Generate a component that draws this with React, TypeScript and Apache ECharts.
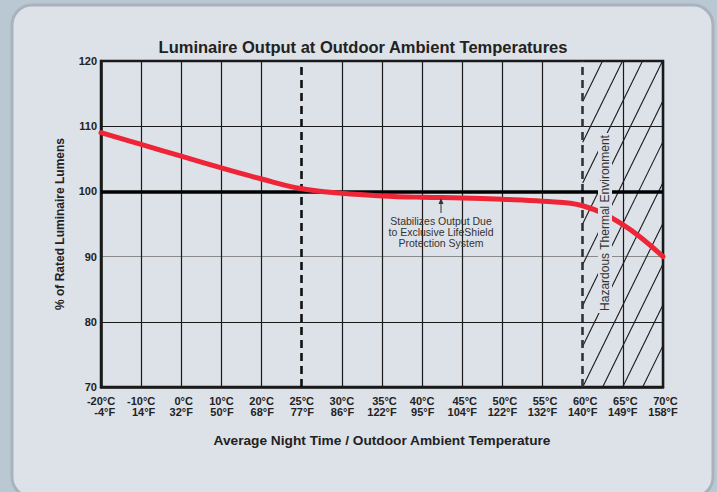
import React, { useEffect, useRef } from 'react';
import * as echarts from 'echarts';

const celsius = ['-20°C', '-10°C', '0°C', '10°C', '20°C', '25°C', '30°C', '35°C', '40°C', '45°C', '50°C', '55°C', '60°C', '65°C', '70°C'];
const fahrenheit = ['-4°F', '14°F', '32°F', '50°F', '68°F', '77°F', '86°F', '122°F', '95°F', '104°F', '122°F', '132°F', '140°F', '149°F', '158°F'];
const outputPct = [109, 107.2, 105.4, 103.6, 101.9, 100.4, 99.7, 99.3, 99.1, 99.0, 98.8, 98.5, 97.8, 94.9, 90];
const yMin = 70;
const yMax = 120;
const yStep = 10;
const referenceLevel = 100;
const dashedAt = ['25°C', '60°C'];
const hazardFrom = '60°C';
const hazardTo = '70°C';
const titleText = 'Luminaire Output at Outdoor Ambient Temperatures';
const xName = 'Average Night Time / Outdoor Ambient Temperature';
const yName = '% of Rated Luminaire Lumens';
const noteText = 'Stabilizes Output Due\nto Exclusive LifeShield\nProtection System';
const hazardText = 'Hazardous Thermal Environment';

const FONT = '"Liberation Sans", Arial, Helvetica, sans-serif';

export default function App() {
  const ref = useRef<HTMLDivElement>(null);
  useEffect(() => {
    const chart = echarts.init(ref.current as HTMLDivElement, null, { renderer: 'svg' });
    const hz0 = celsius.indexOf(hazardFrom);
    const hz1 = celsius.indexOf(hazardTo);
    const dashIdx = dashedAt.map((c) => celsius.indexOf(c));
    const xSplitColors = celsius.map((_, i) => (dashIdx.includes(i) ? 'rgba(0,0,0,0)' : '#1a1a1a'));
    const ySplitColors: string[] = [];
    for (let v = yMin; v <= yMax; v += yStep) ySplitColors.push(v === 90 ? '#8a8a8a' : '#1a1a1a');

    const option: any = {
      animation: false,
      backgroundColor: '#b9c8d2',
      title: {
        text: titleText,
        left: 358,
        top: 33,
        textAlign: 'center',
        textStyle: { fontFamily: FONT, fontSize: 16.5, fontWeight: 'bold', color: '#222' },
      },
      grid: {
        left: 101,
        top: 61,
        width: 562,
        height: 326,
        show: true,
        borderColor: '#1a1a1a',
        borderWidth: 2.5,
        backgroundColor: 'rgba(0,0,0,0)',
      },
      xAxis: {
        type: 'category',
        data: celsius,
        boundaryGap: false,
        axisLine: { show: true, lineStyle: { color: '#1a1a1a', width: 2.5 } },
        axisTick: { show: false },
        splitLine: { show: true, lineStyle: { color: xSplitColors, width: 1.2 } },
        axisLabel: {
          interval: 0,
          margin: 8,
          formatter: (_v: string, i: number) => `{c|${celsius[i]}}\n{f|${fahrenheit[i]}}`,
          rich: {
            c: { align: 'right', fontFamily: FONT, fontSize: 11, fontWeight: 'bold', color: '#222', lineHeight: 11 },
            f: { align: 'right', fontFamily: FONT, fontSize: 11, fontWeight: 'bold', color: '#222', lineHeight: 11 },
          },
        },
        name: xName,
        nameLocation: 'middle',
        nameGap: 46,
        nameTextStyle: { fontFamily: FONT, fontSize: 13.7, fontWeight: 'bold', color: '#222' },
      },
      yAxis: {
        type: 'value',
        min: yMin,
        max: yMax,
        interval: yStep,
        axisLine: { show: true, lineStyle: { color: '#1a1a1a', width: 2.5 } },
        axisTick: { show: false },
        splitLine: { show: true, lineStyle: { color: ySplitColors, width: 1.2 } },
        axisLabel: { margin: 4, fontFamily: FONT, fontSize: 11, fontWeight: 'bold', color: '#222' },
        name: yName,
        nameLocation: 'middle',
        nameGap: 35,
        nameTextStyle: { fontFamily: FONT, fontSize: 12, fontWeight: 'bold', color: '#222', padding: [0, 0, 0, 0] },
      },
      series: [
        {
          type: 'custom',
          z: 2,
          silent: true,
          data: [[hz0, yMax]],
          renderItem: (_p: any, api: any) => {
            const a = api.coord([hz0, yMax]);
            const b = api.coord([hz1, yMin]);
            const xL = a[0], yT = a[1], xR = b[0], yB = b[1];
            const H = yB - yT;
            const run = H / 2.04;
            const step = 20;
            const children: any[] = [];
            for (let n = -Math.ceil(run / step); xL + n * step < xR; n++) {
              const k = xL + n * step;
              let xa = k, ya = yB;
              if (xa < xL) { ya = yB - ((xL - k) * H) / run; xa = xL; }
              let xb = k + run, yb = yT;
              if (xb > xR) { yb = yB - ((xR - k) * H) / run; xb = xR; }
              if (ya <= yT + 0.5 || yb >= yB - 0.5) continue;
              children.push({
                type: 'line',
                shape: { x1: xa, y1: ya, x2: xb, y2: yb },
                style: { stroke: '#1a1a1a', lineWidth: 1.1 },
              });
            }
            return { type: 'group', children };
          },
          markLine: {
            silent: true,
            symbol: ['none', 'none'],
            label: { show: false },
            data: [
              { xAxis: dashIdx[0], lineStyle: { type: [8, 5], width: 2.6, color: '#111' } },
              { xAxis: dashIdx[1], lineStyle: { type: [8, 5], width: 2.6, color: '#333' } },
              { yAxis: referenceLevel, lineStyle: { type: 'solid', width: 3.5, color: '#000' } },
            ],
          },
        },
        {
          type: 'line',
          z: 5,
          data: outputPct,
          smooth: 0.4,
          symbol: 'none',
          lineStyle: { color: '#ee2536', width: 5, cap: 'round' },
        },
      ],
      graphic: [
        {
          type: 'rect',
          z: -10,
          silent: true,
          shape: { x: 12, y: 5, width: 701, height: 492, r: 20 },
          style: { fill: '#dde1e8', stroke: '#a9b3bd', lineWidth: 3 },
        },
        {
          type: 'line',
          z: 50,
          silent: true,
          shape: { x1: 441, y1: 213, x2: 441, y2: 202 },
          style: { stroke: '#333', lineWidth: 1 },
        },
        {
          type: 'polygon',
          z: 50,
          silent: true,
          shape: { points: [[438.5, 204], [443.5, 204], [441, 198]] },
          style: { fill: '#333' },
        },
        {
          type: 'text',
          z: 50,
          silent: true,
          x: 441,
          y: 215,
          style: {
            text: noteText,
            fontFamily: FONT,
            fontSize: 10.5,
            lineHeight: 11,
            fill: '#333',
            align: 'center',
            verticalAlign: 'top',
          },
        },
        {
          type: 'text',
          z: 100,
          silent: true,
          x: 605,
          y: 223,
          rotation: Math.PI / 2,
          style: {
            text: hazardText,
            fontFamily: FONT,
            fontSize: 12,
            fill: '#333',
            align: 'center',
            verticalAlign: 'middle',
            backgroundColor: '#dde1e8',
            padding: [1, 2],
          },
        },
      ],
    };
    chart.setOption(option);
    return () => chart.dispose();
  }, []);
  return <div ref={ref} style={{ position: 'fixed', left: 0, top: 0, width: 717, height: 492 }} />;
}
